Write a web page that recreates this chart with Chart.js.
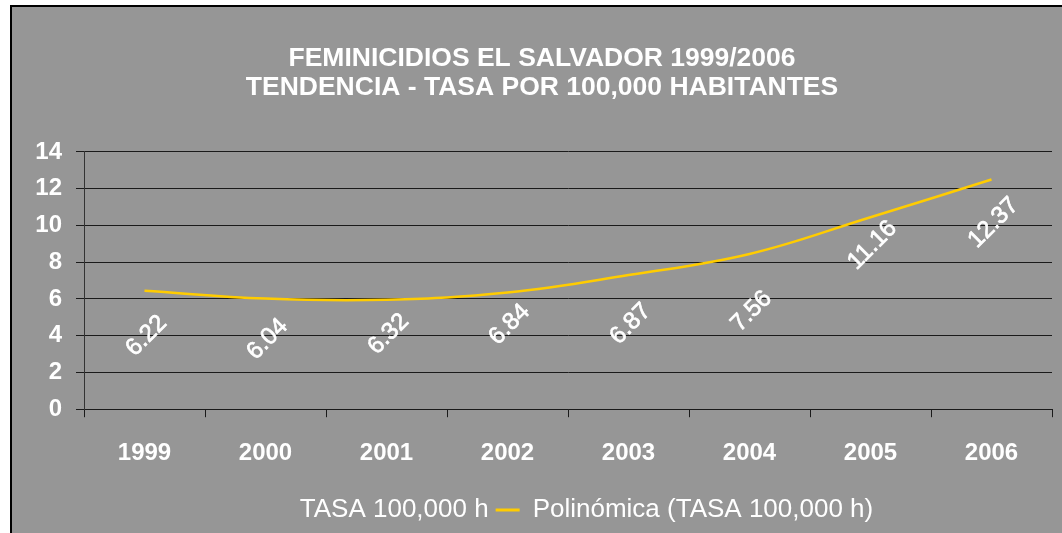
<!DOCTYPE html>
<html>
<head>
<meta charset="utf-8">
<script src="https://cdn.jsdelivr.net/npm/chart.js@4.4.1/dist/chart.umd.min.js"></script>
<style>
  html, body { margin:0; padding:0; background:#fff; }
  #wrap { position:absolute; left:10px; top:5px; width:1050px; height:526px;
          background:#969696; border-left:2px solid #000; border-top:2px solid #000; }
  canvas { display:block; }
</style>
</head>
<body>
<div id="wrap"><canvas id="chart" width="1050" height="526"></canvas></div>
<script>
// ---------- DATA ----------
const YEARS = ["1999","2000","2001","2002","2003","2004","2005","2006"];
const TASA = [6.22, 6.04, 6.32, 6.84, 6.87, 7.56, 11.16, 12.37];
// trend line at each year
const TREND = [6.45, 6.02, 5.96, 6.35, 7.3, 8.45, 10.45, 12.5];
const Y_TICKS = [0, 2, 4, 6, 8, 10, 12, 14];

const FONT = "'Liberation Sans', Arial, sans-serif";

// rotated value labels under the (invisible) columns
const valueLabels = {
  id: "valueLabels",
  afterDatasetsDraw(chart) {
    const ctx = chart.ctx;
    const meta = chart.getDatasetMeta(0);
    ctx.save();
    ctx.font = "24px " + FONT;
    ctx.fillStyle = "#fff";
    ctx.strokeStyle = "#fff";
    ctx.lineWidth = 0.7;
    ctx.textAlign = "center";
    ctx.textBaseline = "middle";
    meta.data.forEach((bar, i) => {
      ctx.save();
      ctx.translate(bar.x + 2, bar.y + 41);
      ctx.rotate(-Math.PI / 4);
      ctx.fillText(TASA[i].toFixed(2), 0, 0);
      ctx.strokeText(TASA[i].toFixed(2), 0, 0);
      ctx.restore();
    });
    ctx.restore();
  }
};

// legend is centred under the plot area, like the original
const legendUnderPlot = {
  id: "legendUnderPlot",
  afterLayout(chart) {
    const lg = chart.legend, area = chart.chartArea;
    lg.left = area.left;
    lg.right = area.right;
    lg.width = area.right - area.left;
  }
};

new Chart(document.getElementById("chart"), {
  type: "bar",
  data: {
    labels: YEARS,
    datasets: [
      { type:"bar", label:"TASA 100,000 h", data:TASA, backgroundColor:"rgba(0,0,0,0)", borderWidth:0, order:2 },
      { type:"line", label:"Polinómica (TASA 100,000 h)", data:TREND, borderColor:"#FFCC00", borderWidth:2.5,
        pointRadius:0, tension:0.4, fill:false, order:1 }
    ]
  },
  options: {
    responsive:false,
    animation:false,
    layout:{ padding:{ left:20, right:10, top:0, bottom:0 } },
    plugins:{
      title:{
        display:true,
        text:["FEMINICIDIOS EL SALVADOR 1999/2006","TENDENCIA - TASA POR 100,000 HABITANTES"],
        color:"#fff",
        font:{ family:FONT, size:26.5, weight:"bold", lineHeight:1.094 },
        padding:{ top:37, bottom:50 }
      },
      legend:{
        position:"bottom",
        labels:{
          color:"#fff",
          font:{ family:FONT, size:26 },
          usePointStyle:true,
          pointStyleWidth:24,
          padding:7,
          generateLabels(chart) {
            return chart.data.datasets.map((ds, i) => ({
              text: ds.label,
              datasetIndex: i,
              fontColor: "#fff",
              pointStyle: "line",
              strokeStyle: i === 0 ? "rgba(0,0,0,0)" : "#FFCC00",
              fillStyle: "rgba(0,0,0,0)",
              lineWidth: i === 0 ? 0 : 3,
              hidden: false
            }));
          }
        }
      },
      tooltip:{ enabled:false }
    },
    scales:{
      x:{
        offset:true,
        grid:{ offset:true, drawOnChartArea:false, drawTicks:true, tickLength:8, color:"#1a1a1a" },
        border:{ display:true, color:"#1a1a1a", width:1 },
        ticks:{ color:"#fff", font:{ family:FONT, size:24, weight:"bold" }, padding:22, maxRotation:0 }
      },
      y:{
        min:0, max:14,
        afterBuildTicks(scale) { scale.ticks = Y_TICKS.map(v => ({ value:v })); },
        afterFit(scale) { scale.width = 52; },
        grid:{ color:"#1a1a1a", tickLength:8, drawTicks:true },
        border:{ display:true, color:"#333", width:1 },
        ticks:{ color:"#fff", font:{ family:FONT, size:24, weight:"bold" }, padding:14 }
      }
    }
  },
  plugins:[valueLabels, legendUnderPlot]
});
</script>
</body>
</html>
